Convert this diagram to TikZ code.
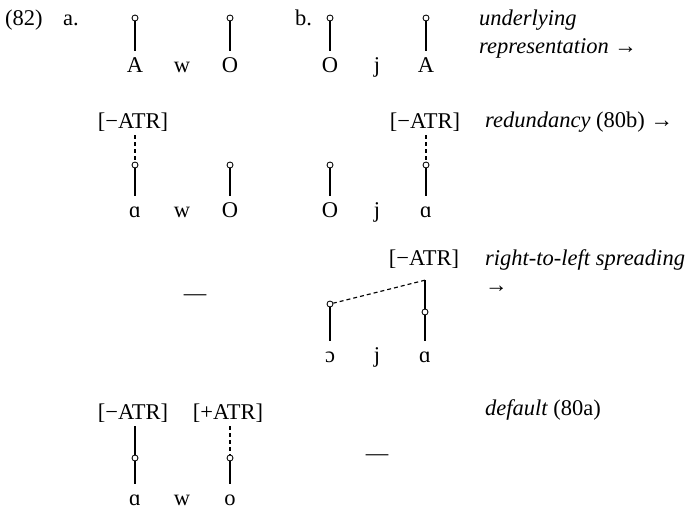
\documentclass[tikz,border=0pt]{standalone}
\usepackage{fontspec}
\setmainfont{Liberation Serif}
\begin{document}
\begin{tikzpicture}[x=1pt,y=-1pt,
  every node/.style={font=\fontsize{22.5}{27}\selectfont},
  root/.style={draw,circle,inner sep=0pt,minimum size=6pt,line width=0.85pt,fill=white},
  seg/.style={anchor=base,inner sep=0pt,inner ysep=5pt,text height=16pt,text depth=0pt},
  feat/.style={anchor=base,inner xsep=0pt,inner ysep=7pt,text height=16pt,text depth=0pt},
  num/.style={anchor=base west,inner sep=0pt},
  lab/.style={anchor=base west,inner sep=0pt,font=\itshape\fontsize{22.5}{27}\selectfont},
  assoc/.style={line width=1.15pt},
  newassoc/.style={line width=1.15pt,dash pattern=on 4pt off 3pt},
  nochange/.style={inner sep=0pt}
]
\useasboundingbox (0,0) rectangle (694,509);

% ---------- labels on the left
\node[num] (ex) at (5,25) {(82)};
\node[num] (pa) at (63,25) {a.};
\node[num] (pb) at (295,25) {b.};

% ---------- row 1: underlying representation
\node[root] (c1a) at (135,18) {};
\node[root] (c1o) at (230,18) {};
\node[root] (c1bo) at (330,18) {};
\node[root] (c1ba) at (426,18) {};
\node[seg] (s1a) at (135,72) {A};
\node[seg] (s1w) at (182,72) {w};
\node[seg] (s1o) at (230,72) {O};
\node[seg] (s1bo) at (330,72) {O};
\node[seg] (s1j) at (377,72) {j};
\node[seg] (s1ba) at (426,72) {A};
\draw[assoc] (c1a) -- (s1a.north);
\draw[assoc] (c1o) -- (s1o.north);
\draw[assoc] (c1bo) -- (s1bo.north);
\draw[assoc] (c1ba) -- (s1ba.north);
\node[lab] (l1a) at (479,25) {underlying};
\node[lab] (l1b) at (479,53) {representation {\upshape →}};

% ---------- row 2: redundancy
\node[feat] (f2a) at (133,128) {[−ATR]};
\node[feat] (f2b) at (425,128) {[−ATR]};
\node[root] (c2a) at (135,165) {};
\node[root] (c2o) at (230,165) {};
\node[root] (c2bo) at (330,165) {};
\node[root] (c2ba) at (426,165) {};
\node[seg] (s2a) at (135,217) {ɑ};
\node[seg] (s2w) at (182,217) {w};
\node[seg] (s2o) at (230,217) {O};
\node[seg] (s2bo) at (330,217) {O};
\node[seg] (s2j) at (377,217) {j};
\node[seg] (s2ba) at (426,217) {ɑ};
\draw[newassoc] (c2a |- f2a.south) -- (c2a);
\draw[newassoc] (c2ba |- f2b.south) -- (c2ba);
\draw[assoc] (c2a) -- (s2a.north);
\draw[assoc] (c2o) -- (s2o.north);
\draw[assoc] (c2bo) -- (s2bo.north);
\draw[assoc] (c2ba) -- (s2ba.north);
\node[lab] (l2) at (485,127) {redundancy {\upshape (80b) →}};

% ---------- row 3: right-to-left spreading
\node[nochange] (d3) at (195,298) {—};
\node[feat,inner ysep=15pt] (f3) at (424,265) {[−ATR]};
\node[root] (c3o) at (330,304) {};
\node[root] (c3a) at (425,312) {};
\node[seg] (s3o) at (330,362) {ɔ};
\node[seg] (s3j) at (377,362) {j};
\node[seg] (s3a) at (425,362) {ɑ};
\draw[assoc] (c3a |- f3.south) -- (c3a);
\draw[newassoc] (c3a |- f3.south) -- (c3o);
\draw[assoc] (c3o) -- (s3o.north);
\draw[assoc] (c3a) -- (s3a.north);
\node[lab] (l3a) at (485,265) {right-to-left spreading};
\node[lab] (l3b) at (485,292) {\upshape →};

% ---------- row 4: default
\node[feat] (f4a) at (133,419) {[−ATR]};
\node[feat] (f4b) at (228,419) {[+ATR]};
\node[root] (c4a) at (135,458) {};
\node[root] (c4o) at (230,458) {};
\node[seg] (s4a) at (135,505) {ɑ};
\node[seg] (s4w) at (182,505) {w};
\node[seg] (s4o) at (230,505) {o};
\draw[assoc] (c4a |- f4a.south) -- (c4a);
\draw[newassoc] (c4o |- f4b.south) -- (c4o);
\draw[assoc] (c4a) -- (s4a.north);
\draw[assoc] (c4o) -- (s4o.north);
\node[nochange] (d4) at (377,458) {—};
\node[lab] (l4) at (485,415) {default {\upshape (80a)}};
\end{tikzpicture}
\end{document}
